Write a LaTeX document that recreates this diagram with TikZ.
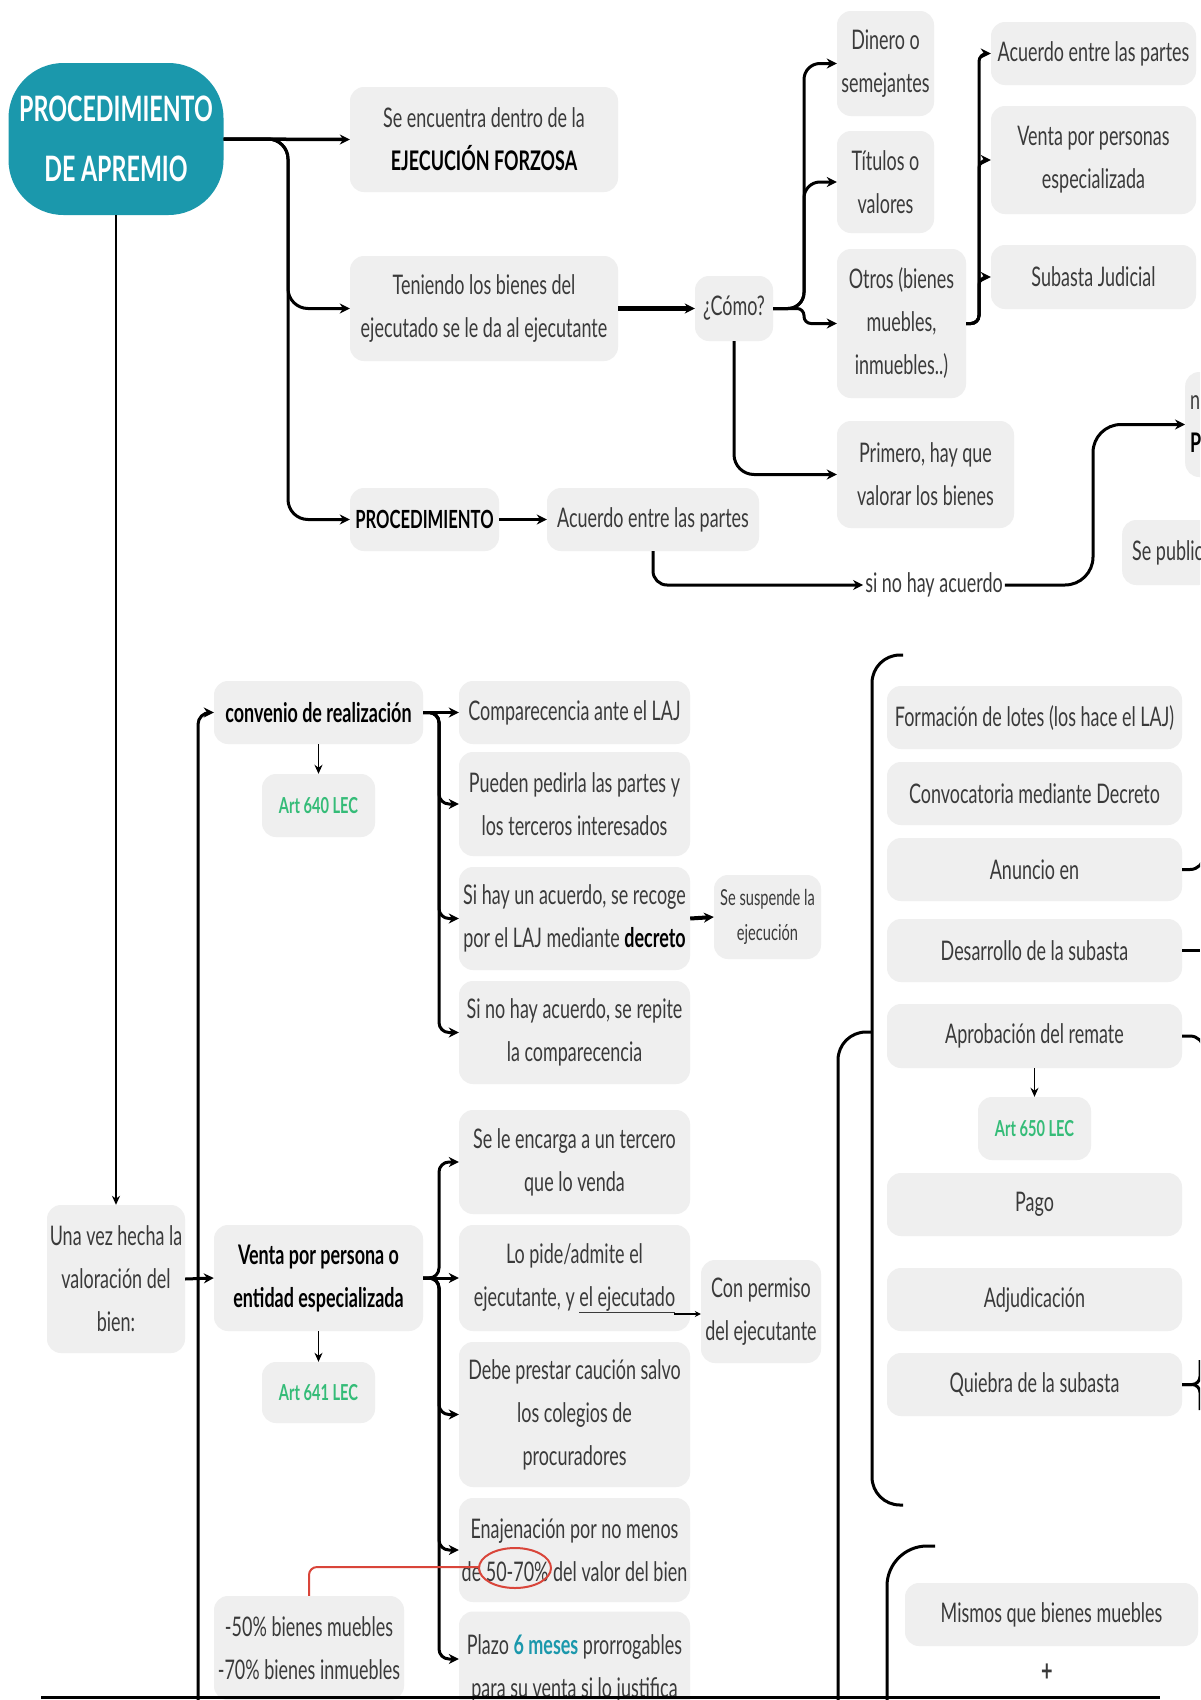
\documentclass[tikz,border=0pt]{standalone}
\usepackage{fontspec}
\setmainfont{Lato}[FakeStretch=0.665]
\usetikzlibrary{arrows.meta}
\definecolor{teal1}{HTML}{1B98AC}
\definecolor{boxg}{HTML}{EFEFEF}
\definecolor{txt}{HTML}{3A3A3A}
\definecolor{grn}{HTML}{35BC78}
\definecolor{redc}{HTML}{D9453A}
\newcommand\bxn[6]{\node[bx, minimum width=#4pt, minimum height=#5pt] (#1) at (#2,#3) {#6};}
\tikzset{
  bx/.style={rectangle, rounded corners=14pt, fill=boxg, text=txt, align=center, inner sep=0pt, font=\fontsize{27}{43}\selectfont},
  bbx/.style={bx, text=black, font=\fontsize{27}{43}\bfseries\selectfont},
  artbx/.style={bx, text=grn, font=\fontsize{22}{25}\bfseries\selectfont},
  conn/.style={line width=3pt, -{Stealth[length=10pt,width=10pt]}, rounded corners=20pt},
  thinarr/.style={line width=1.8pt, -{Stealth[length=9pt,width=8pt]}},
  plain/.style={line width=3pt, rounded corners=20pt}
}
\begin{document}
\begin{tikzpicture}[x=1pt,y=-1pt]
\useasboundingbox (0,0) rectangle (1200,1700);
\clip (0,0) rectangle (1200,1700);
\fill[white] (0,0) rectangle (1200,1700);

% ---------- top part ----------
\node[fill=teal1, rounded corners=55pt, minimum width=215pt, minimum height=152pt, text=white,
      font=\fontsize{35}{60}\bfseries\selectfont, align=center, inner sep=0pt] (main) at (116,139) {PROCEDIMIENTO\\DE APREMIO};

\bxn{se}{484}{139.5}{268}{105}{Se encuentra dentro de la\\\textcolor{black}{\bfseries EJECUCIÓN FORZOSA}}
\bxn{ten}{484}{308.5}{268}{105}{Teniendo los bienes del\\ejecutado se le da al ejecutante}
\node[bbx, minimum width=149pt, minimum height=63pt, font=\fontsize{25}{43}\bfseries\selectfont] (proc) at (424.5,519.5) {PROCEDIMIENTO};
\bxn{acu1}{653}{519.5}{212}{63}{Acuerdo entre las partes}
\bxn{como}{734}{308.5}{78}{65}{¿Cómo?}
\bxn{din}{885.5}{63.5}{97}{105}{Dinero o\\semejantes}
\bxn{tit}{885.5}{182}{97}{102}{Títulos o\\valores}
\bxn{otros}{901.5}{323.5}{129}{149}{Otros (bienes\\muebles,\\inmuebles..)}
\bxn{prim}{925.5}{474.5}{177}{107}{Primero, hay que\\valorar los bienes}
\bxn{acu2}{1093.5}{53.5}{205}{63}{Acuerdo entre las partes}
\bxn{ven2}{1093.5}{160}{205}{108}{Venta por personas\\especializada}
\bxn{sub}{1093.5}{277}{205}{64}{Subasta Judicial}
\node[bx, anchor=west, minimum width=90pt, minimum height=105pt, align=left, text width=80pt] (p1) at (1185,424.5) {n\\\textcolor{black}{\bfseries P}};
\node[bx, anchor=west, minimum height=65pt, inner xsep=10pt] (p2) at (1122,552.5) {Se public};
\node[text=txt, font=\fontsize{27}{30}\selectfont, inner sep=2pt] (sina) at (934,585) {si no hay acuerdo};

\coordinate (j1) at (288,139);
\draw[conn, line width=3.5pt] (main.east) -- (se.west);
\draw[conn] (main.east) -- (j1) -- (j1 |- ten.west) -- (ten.west);
\draw[conn] (main.east) -- (j1) -- (j1 |- proc.west) -- (proc.west);
\draw[conn, line width=4.5pt] (ten.east) -- (como.west);
\coordinate (j2) at (804,308.5);
\draw[conn, rounded corners=16pt] (como.east) -- (j2) -- (j2 |- din.west) -- (din.west);
\draw[conn, rounded corners=16pt] (como.east) -- (j2) -- (j2 |- tit.west) -- (tit.west);
\draw[conn, rounded corners=7pt] (como.east) -- (j2) -- (j2 |- otros.west) -- (otros.west);
\draw[conn] (como.south) -- (como.south |- prim.west) -- (prim.west);
\coordinate (j3) at (979,323.5);
\draw[conn, rounded corners=8pt] (otros.east) -- (j3) -- (j3 |- acu2.west) -- (acu2.west);
\draw[conn, rounded corners=8pt] (otros.east) -- (j3) -- (j3 |- ven2.west) -- (ven2.west);
\draw[conn, rounded corners=8pt] (otros.east) -- (j3) -- (j3 |- sub.west) -- (sub.west);
\draw[conn] (proc.east) -- (acu1.west);
\draw[conn, rounded corners=14pt] (acu1.south) -- (acu1.south |- sina.west) -- (sina.west);
\coordinate (j4) at (1093,585);
\draw[conn, rounded corners=28pt] (sina.east) -- (j4) -- (j4 |- p1.west) -- (p1.west);

% ---------- lower left ----------
\bxn{una}{116}{1279}{138}{148}{Una vez hecha la\\valoración del\\bien:}
\draw[thinarr] (main.south) -- (una.north);
\node[bbx, minimum width=209pt, minimum height=63pt] (conv) at (318.5,712.5) {convenio de realización};
\node[artbx, minimum width=113pt, minimum height=63pt] (art640) at (318.5,805.5) {Art 640 LEC};
\bxn{comp}{574.5}{712.5}{231}{63}{Comparecencia ante el LAJ}
\bxn{pued}{574.5}{804}{231}{104}{Pueden pedirla las partes y\\los terceros interesados}
\bxn{sihay}{574.5}{918.5}{231}{103}{Si hay un acuerdo, se recoge\\por el LAJ mediante \textcolor{black}{\bfseries decreto}}
\node[bx, minimum width=107pt, minimum height=84pt, font=\fontsize{22}{35}\selectfont] (susp) at (767.5,917) {Se suspende la\\ejecución};
\bxn{sino}{574.5}{1032.5}{231}{103}{Si no hay acuerdo, se repite\\la comparecencia}

\node[bbx, minimum width=209pt, minimum height=106pt] (venta) at (318.5,1278) {Venta por persona o\\entidad especializada};
\node[artbx, minimum width=113pt, minimum height=61pt] (art641) at (318.5,1392.5) {Art 641 LEC};
\bxn{encarga}{574.5}{1162}{231}{104}{Se le encarga a un tercero\\que lo venda}
\bxn{pide}{574.5}{1278}{231}{106}{Lo pide/admite el\\ejecutante, y \underline{el ejecutado}}
\bxn{permiso}{761}{1311.5}{120}{103}{Con permiso\\del ejecutante}
\bxn{caucion}{574.5}{1414.5}{231}{145}{Debe prestar caución salvo\\los colegios de\\procuradores}
\bxn{enaj}{574.5}{1550}{231}{104}{Enajenación por no menos\\de 50-70\% del valor del bien}
\bxn{pct}{309}{1648}{190}{104}{-50\% bienes muebles\\-70\% bienes inmuebles}
\bxn{plazo}{574.5}{1668}{231}{113}{Plazo \textcolor{teal1}{\bfseries 6 meses} prorrogables\\para su venta si lo justifica}

\coordinate (vb) at (198,1700);
\draw[conn, rounded corners=12pt] (vb) -- (vb |- conv.west) -- (conv.west);
\draw[conn] (una.east) -- (venta.west);
\draw[thinarr] (conv.south) -- (art640.north);
\draw[thinarr] (venta.south) -- (art641.north);
\coordinate (j5) at (439,712.5);
\draw[conn] (conv.east) -- (comp.west);
\foreach \n in {pued,sihay,sino} {\draw[conn, rounded corners=10pt] (conv.east) -- (j5) -- (j5 |- \n.west) -- (\n.west);}
\draw[conn, line width=4pt] (sihay.east) -- (susp.west);
\coordinate (j6) at (439,1278);
\draw[conn] (venta.east) -- (pide.west);
\foreach \n in {encarga,caucion,enaj} {\draw[conn, rounded corners=10pt] (venta.east) -- (j6) -- (j6 |- \n.west) -- (\n.west);}
\draw[conn, rounded corners=10pt] (venta.east) -- (j6) -- (j6 |- 0,1659) -- (plazo.west |- 0,1659);
\coordinate (ul) at (674,1314);
\draw[line width=2pt, -{Stealth[length=6pt,width=6pt]}] (ul) -- (ul -| permiso.west);

\coordinate (ell) at (515,1568);
\draw[redc, line width=2pt] (ell) ellipse [x radius=36pt, y radius=20pt];
\coordinate (ellL) at (479,1567);
\draw[redc, line width=2pt, rounded corners=8pt] (ellL) -- (ellL -| pct.north) -- (pct.north);

% ---------- lower right ----------
\bxn{form}{1034.5}{717.5}{295}{63}{Formación de lotes (los hace el LAJ)}
\bxn{conv2}{1034.5}{793.5}{295}{63}{Convocatoria mediante Decreto}
\bxn{anun}{1034.5}{869.5}{295}{63}{Anuncio en}
\bxn{desa}{1034.5}{950.5}{295}{63}{Desarrollo de la subasta}
\bxn{apro}{1034.5}{1036}{295}{64}{Aprobación del remate}
\node[artbx, minimum width=113pt, minimum height=63pt] (art650) at (1034.5,1128.5) {Art 650 LEC};
\bxn{pago}{1034.5}{1204.5}{295}{63}{Pago}
\bxn{adju}{1034.5}{1299.5}{295}{63}{Adjudicación}
\bxn{quie}{1034.5}{1384.5}{295}{63}{Quiebra de la subasta}
\bxn{mism}{1051.5}{1614.5}{293}{63}{Mismos que bienes muebles}
\node[text=txt, font=\fontsize{30}{30}\bfseries\selectfont] (plus) at (1047,1673) {+};

\draw[thinarr] (apro.south) -- (art650.north);
\draw[plain, rounded corners=28pt] (903,655) -- (872,655) -- (872,1505) -- (903,1505);
\draw[plain, rounded corners=28pt] (838,1700) -- (838,1032) -- (872,1032);
\draw[plain, rounded corners=40pt] (935,1546) -- (887,1546) -- (887,1700);
\draw[plain, rounded corners=14pt] (anun.east) -- (1204,869.5) -- (1204,840);
\draw[plain] (desa.east) -- (1200,950.5);
\draw[plain, rounded corners=14pt] (apro.east) -- (1204,1036) -- (1204,1070);
\draw[plain, rounded corners=8pt] (quie.east) -- (1200,1384.5) -- (1200,1360);
\draw[plain, rounded corners=8pt] (quie.east) -- (1200,1384.5) -- (1200,1410);

\draw[line width=3pt] (41,1697) -- (1160,1697);
\end{tikzpicture}
\end{document}
